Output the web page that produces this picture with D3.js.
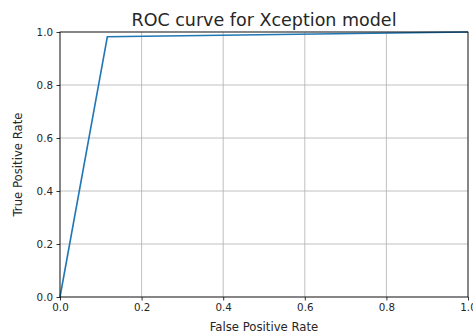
<!DOCTYPE html>
<html>
<head>
<meta charset="utf-8">
<script src="https://cdn.jsdelivr.net/npm/d3@7"></script>
<style>
  body { margin: 0; background: #fff; }
  text { font-family: "DejaVu Sans", sans-serif; fill: #262626; }
</style>
</head>
<body>
<script>
'use strict';
// ROC points
var fpr = [0, 0.116, 1];
var tpr = [0, 0.982, 1];
var ticks = [0, 0.2, 0.4, 0.6, 0.8, 1.0];

var width = 473, height = 336;
var margin = {top: 32, right: 5, bottom: 39, left: 60};

var svg = d3.select('body').append('svg')
    .attr('width', width)
    .attr('height', height);

var x = d3.scaleLinear().domain([0, 1]).range([margin.left, width - margin.right]);
var y = d3.scaleLinear().domain([0, 1]).range([height - margin.bottom, margin.top]);

// grid
var grid = svg.append('g');
grid.selectAll('.gx').data(ticks).enter().append('line')
    .attr('x1', function(d) { return x(d); })
    .attr('x2', function(d) { return x(d); })
    .attr('y1', y(0)).attr('y2', y(1))
    .attr('stroke', '#b0b0b0').attr('stroke-width', 0.8);
grid.selectAll('.gy').data(ticks).enter().append('line')
    .attr('y1', function(d) { return y(d); })
    .attr('y2', function(d) { return y(d); })
    .attr('x1', x(0)).attr('x2', x(1))
    .attr('stroke', '#b0b0b0').attr('stroke-width', 0.8);

var line = d3.line()
    .x(function(d) { return x(d[0]); })
    .y(function(d) { return y(d[1]); });

svg.append('path')
    .datum(d3.zip(fpr, tpr))
    .attr('d', line)
    .attr('fill', 'none')
    .attr('stroke', '#1f77b4')
    .attr('stroke-width', 1.6);

// frame
svg.append('rect')
    .attr('x', x(0)).attr('y', y(1))
    .attr('width', x(1) - x(0)).attr('height', y(0) - y(1))
    .attr('fill', 'none').attr('stroke', '#000').attr('stroke-width', 0.8);

var xAxis = svg.append('g')
    .attr('transform', 'translate(0,' + y(0) + ')')
    .call(d3.axisBottom(x).tickValues(ticks).tickFormat(d3.format('.1f')).tickSize(3.5).tickPadding(3.5));
var yAxis = svg.append('g')
    .attr('transform', 'translate(' + x(0) + ',0)')
    .call(d3.axisLeft(y).tickValues(ticks).tickFormat(d3.format('.1f')).tickSize(3.5).tickPadding(3.5));

[xAxis, yAxis].forEach(function(a) {
    a.select('.domain').remove();
    a.selectAll('line').attr('stroke', '#000').attr('stroke-width', 0.8);
    a.selectAll('text').attr('font-size', 10.3).attr('fill', '#262626')
        .attr('font-family', '"DejaVu Sans", sans-serif');
});

svg.append('text')
    .attr('x', (x(0) + x(1)) / 2)
    .attr('y', 26)
    .attr('text-anchor', 'middle')
    .attr('font-size', 17.5)
    .text('ROC curve for Xception model');

svg.append('text')
    .attr('x', (x(0) + x(1)) / 2)
    .attr('y', 331)
    .attr('text-anchor', 'middle')
    .attr('font-size', 11.7)
    .text('False Positive Rate');

svg.append('text')
    .attr('transform', 'translate(22,' + ((y(0) + y(1)) / 2) + ') rotate(-90)')
    .attr('text-anchor', 'middle')
    .attr('font-size', 11.7)
    .text('True Positive Rate');
</script>
</body>
</html>
